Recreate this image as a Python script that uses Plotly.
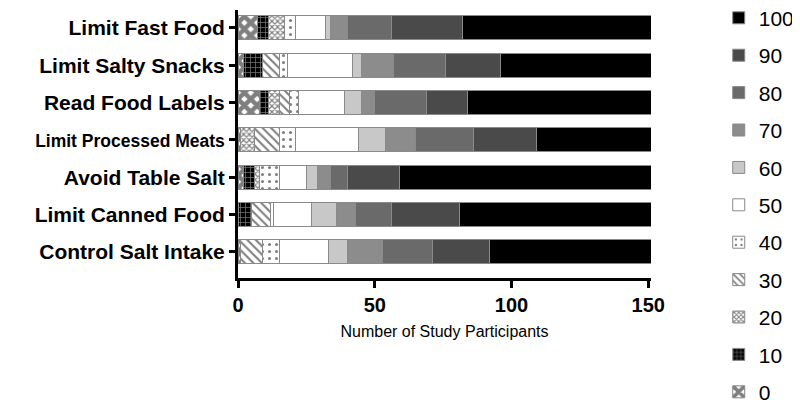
import plotly.graph_objects as go

categories = ["Limit Fast Food", "Limit Salty Snacks", "Read Food Labels",
              "Limit Processed Meats", "Avoid Table Salt", "Limit Canned Food",
              "Control Salt Intake"]
levels = ["0", "10", "20", "30", "40", "50", "60", "70", "80", "90", "100"]

# counts per category for each response level
v0 = [7, 2, 8, 1, 2, 0, 1]
v10 = [4, 7, 3, 0, 4, 5, 0]
v20 = [6, 0, 4, 5, 2, 0, 0]
v30 = [0, 6, 4, 9, 0, 7, 8]
v40 = [4, 3, 3, 6, 7, 1, 6]
v50 = [11, 24, 17, 23, 10, 14, 18]
v60 = [2, 3, 6, 10, 4, 9, 7]
v70 = [6, 12, 5, 11, 5, 7, 13]
v80 = [16, 19, 19, 21, 6, 13, 18]
v90 = [26, 20, 15, 23, 19, 25, 21]
v100 = [69, 55, 67, 42, 92, 70, 59]
series = [v0, v10, v20, v30, v40, v50, v60, v70, v80, v90, v100]

x_ticks = [0, 50, 100, 150]

styles = {
    "0": dict(bg="white", pat=dict(shape="x", fgcolor="black", bgcolor="white", size=9, solidity=0.75)),
    "10": dict(bg="black", pat=dict(shape="+", fgcolor="white", bgcolor="black", size=5, solidity=0.25)),
    "20": dict(bg="white", pat=dict(shape="x", fgcolor="black", bgcolor="white", size=4, solidity=0.5)),
    "30": dict(bg="white", pat=dict(shape="\\", fgcolor="black", bgcolor="white", size=6, solidity=0.35)),
    "40": dict(bg="white", pat=dict(shape=".", fgcolor="black", bgcolor="white", size=7, solidity=0.15)),
    "50": dict(bg="white", pat=None),
    "60": dict(bg="#c8c8c8", pat=None),
    "70": dict(bg="#8c8c8c", pat=None),
    "80": dict(bg="#6a6a6a", pat=None),
    "90": dict(bg="#4a4a4a", pat=None),
    "100": dict(bg="#000000", pat=None),
}

fig = go.Figure()
for i, (lvl, vals) in enumerate(zip(levels, series)):
    st = styles[lvl]
    marker = dict(color=st["bg"], line=dict(color="#8a8a8a", width=1))
    if st["pat"]:
        marker["pattern"] = st["pat"]
    fig.add_trace(go.Bar(
        y=categories, x=vals, name=lvl, orientation="h",
        marker=marker, width=0.64, legendgroup=lvl, legendrank=100 - i,
    ))

# tick labels: the long one is drawn slightly condensed as in the reference
tick_text = [c if c != "Limit Processed Meats"
             else "<span style='font-size:17.5px'>" + c + "</span>" for c in categories]

# page body has an 8px default margin, so the figure is sized 792x397
fig.update_layout(
    barmode="stack",
    width=792, height=397,
    margin=dict(l=230, r=149, t=2, b=127, autoexpand=False),
    plot_bgcolor="white", paper_bgcolor="white",
    font=dict(family="Liberation Sans, Arial", color="black"),
    legend=dict(
        x=1.164, y=1.046, xanchor="left", yanchor="top",
        traceorder="grouped", tracegroupgap=7.1,
        font=dict(size=21, color="black"),
        bgcolor="rgba(0,0,0,0)", maxheight=1000,
    ),
)
fig.update_xaxes(
    range=[0, 151], tickvals=x_ticks, showgrid=False, zeroline=False,
    showline=True, linecolor="black", linewidth=3,
    ticks="outside", ticklen=7, tickwidth=3, tickcolor="black",
    tickfont=dict(size=20, family="Liberation Sans, Arial", weight="bold"),
    title=dict(text="Number of Study Participants", font=dict(size=16), standoff=11),
)
fig.update_yaxes(
    categoryorder="array", categoryarray=categories[::-1],
    tickvals=categories, ticktext=tick_text,
    range=[-0.7, 6.48], showgrid=False, zeroline=False,
    showline=True, linecolor="black", linewidth=3,
    ticks="outside", ticklen=6, tickwidth=3, tickcolor="black",
    tickfont=dict(size=21, family="Liberation Sans, Arial", weight="bold"),
)

fig.write_html("out.html")
